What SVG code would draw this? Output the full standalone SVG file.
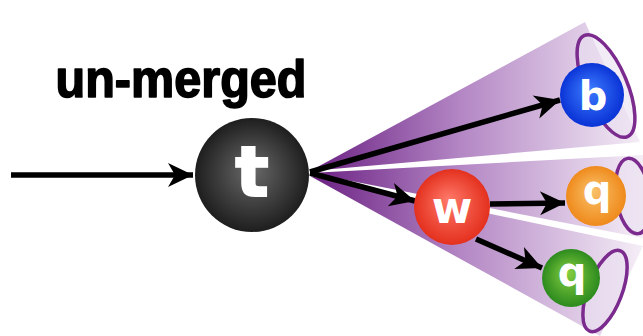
<svg xmlns="http://www.w3.org/2000/svg" width="643" height="336" viewBox="0 0 643 336">
  <style>
    .lbl { font-family: "DejaVu Sans", "Liberation Sans", sans-serif; font-weight: bold; fill: #ffffff; text-anchor: middle; }
    .edge { stroke: #000000; stroke-width: 5.5; fill: none; marker-end: url(#arr); }
    .jet { stroke: #7b2a8e; stroke-width: 3.5; fill: #eadff0; fill-opacity: 0.6; }
    .cone { fill: url(#coneG); }
  </style>
  <defs>
    <marker id="arr" markerUnits="userSpaceOnUse" markerWidth="30" markerHeight="30" viewBox="-1 -15 30 30" refX="25" refY="0" orient="auto" overflow="visible">
      <path d="M0,-12 L25,0 L0,12 L7,0 z" fill="#000000"/>
    </marker>
    <linearGradient id="coneG" gradientUnits="userSpaceOnUse" x1="310" y1="0" x2="643" y2="0">
      <stop offset="0" stop-color="#6a1f82"/>
      <stop offset="0.45" stop-color="#b386c4"/>
      <stop offset="1" stop-color="#f5eef7"/>
    </linearGradient>
    <radialGradient id="gT" cx="0.5" cy="0.5" r="0.5" fx="0.5" fy="0.45">
      <stop offset="0" stop-color="#6a6a6a"/>
      <stop offset="1" stop-color="#1e1e1e"/>
    </radialGradient>
    <radialGradient id="gB" cx="0.5" cy="0.5" r="0.5" fx="0.45" fy="0.4">
      <stop offset="0" stop-color="#3d7dff"/>
      <stop offset="1" stop-color="#0a33d6"/>
    </radialGradient>
    <radialGradient id="gW" cx="0.5" cy="0.5" r="0.5" fx="0.45" fy="0.4">
      <stop offset="0" stop-color="#ff7a6a"/>
      <stop offset="1" stop-color="#e4301e"/>
    </radialGradient>
    <radialGradient id="gO" cx="0.5" cy="0.5" r="0.5" fx="0.45" fy="0.4">
      <stop offset="0" stop-color="#f9c26a"/>
      <stop offset="1" stop-color="#ef8a1c"/>
    </radialGradient>
    <radialGradient id="gG" cx="0.5" cy="0.5" r="0.5" fx="0.45" fy="0.4">
      <stop offset="0" stop-color="#86cf40"/>
      <stop offset="1" stop-color="#2c8a1e"/>
    </radialGradient>
  </defs>

  <g id="cones">
    <polygon class="cone" points="310,171 585,22 640,142"/>
    <polygon class="cone" points="310,173 643,155 643,238"/>
    <polygon class="cone" points="310,176 643,246 600,336"/>
  </g>

  <g id="jets">
    <ellipse class="jet" cx="606" cy="86" rx="21" ry="55" transform="rotate(-23 606 86)"/>
    <ellipse class="jet" cx="633" cy="196" rx="17" ry="38" transform="rotate(-8 633 196)"/>
    <ellipse class="jet" cx="605" cy="291" rx="17" ry="43" transform="rotate(21 605 291)"/>
  </g>

  <text id="title" x="181" y="97" font-family="Liberation Sans, Arial, sans-serif" font-weight="bold" font-size="51" text-anchor="middle" fill="#000000" stroke="#000000" stroke-width="1.6" stroke-linejoin="round" textLength="251" lengthAdjust="spacingAndGlyphs">un-merged</text>

  <g id="connectors">
    <line class="edge" x1="11" y1="175" x2="193" y2="175"/>
    <line class="edge" x1="310" y1="172" x2="560" y2="100"/>
    <line class="edge" x1="310" y1="173" x2="415" y2="201"/>
    <line class="edge" x1="490" y1="204" x2="565" y2="203"/>
    <line class="edge" x1="476" y1="239" x2="542" y2="268"/>
  </g>

  <g id="t">
    <circle cx="252" cy="175" r="57" fill="url(#gT)"/>
    <text class="lbl" x="252" y="196" font-size="70" stroke="#ffffff" stroke-width="2">t</text>
  </g>
  <g id="w">
    <circle cx="452" cy="207" r="38" fill="url(#gW)"/>
    <text class="lbl" x="452" y="223" font-size="44">w</text>
  </g>
  <g id="b">
    <circle cx="592" cy="95" r="32" fill="url(#gB)"/>
    <text class="lbl" x="593" y="110" font-size="40">b</text>
  </g>
  <g id="q1">
    <circle cx="596" cy="196" r="30" fill="url(#gO)"/>
    <text class="lbl" x="597" y="204" font-size="40">q</text>
  </g>
  <g id="q2">
    <circle cx="571" cy="278" r="29" fill="url(#gG)"/>
    <text class="lbl" x="572" y="286" font-size="40">q</text>
  </g>
</svg>
